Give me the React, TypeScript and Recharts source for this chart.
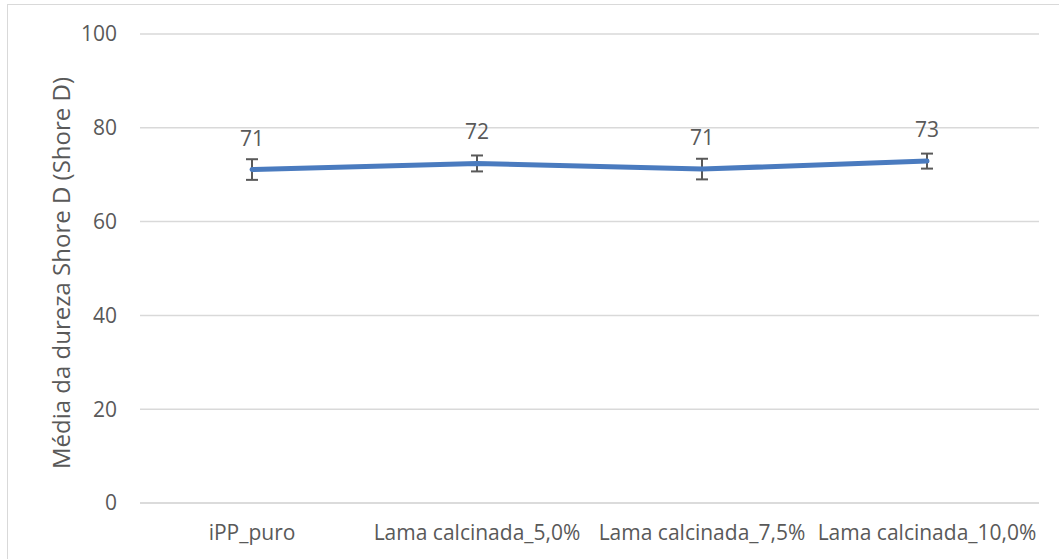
import { LineChart, Line, XAxis, YAxis, CartesianGrid, ErrorBar, LabelList, Label } from "recharts"

const categories = ["iPP_puro", "Lama calcinada_5,0%", "Lama calcinada_7,5%", "Lama calcinada_10,0%"]
const hardness = [71.1, 72.4, 71.2, 72.9]
const deviation = [2.2, 1.7, 2.2, 1.6]
const yTicks = [0, 20, 40, 60, 80, 100]
const yTitle = "Média da dureza Shore D (Shore D)"

const data = categories.map((name, i) => ({ name, value: hardness[i], err: deviation[i] }))

const textColor = "#595959"
const font = "'Open Sans', sans-serif"
const fontSize = 21

// axis title sits a bit lower than the plot centre in the original
const YTitle = () => (
  <text
    x={60}
    y={273}
    transform="rotate(-90 60 273)"
    textAnchor="middle"
    dominantBaseline="central"
    fill={textColor}
    fontSize={24}
    fontFamily={font}
  >
    {yTitle}
  </text>
)

export default function App() {
  return (
    <div
      style={{
        position: "fixed",
        left: 0,
        top: 0,
        width: 1059,
        height: 559,
        overflow: "hidden",
        background: "#fff",
        fontFamily: font,
      }}
    >
      <div
        style={{
          position: "absolute",
          left: 7,
          top: 4,
          width: 1100,
          height: 600,
          border: "1px solid #d9d9d9",
        }}
      />
      <div style={{ position: "absolute", left: 0, top: 0 }}>
        <LineChart width={1059} height={559} data={data} margin={{ top: 34, right: 20, bottom: 26, left: 0 }}>
          <CartesianGrid vertical={false} stroke="#d9d9d9" strokeWidth={1.5} />
          <XAxis
            dataKey="name"
            height={30}
            padding={{ left: 112, right: 112 }}
            axisLine={{ stroke: "#d9d9d9", strokeWidth: 1.5 }}
            tickLine={false}
            tickMargin={16}
            interval={0}
            tick={{ fill: textColor, fontSize, fontFamily: font }}
          />
          <YAxis
            width={140}
            domain={[0, 100]}
            ticks={yTicks}
            axisLine={false}
            tickLine={false}
            tickMargin={17}
            tick={{ fill: textColor, fontSize, fontFamily: font }}
          >
            <Label content={<YTitle />} />
          </YAxis>
          <Line
            type="linear"
            dataKey="value"
            stroke="#4a7bbf"
            strokeWidth={5}
            strokeLinecap="round"
            dot={false}
            activeDot={false}
            isAnimationActive={false}
          >
            <ErrorBar dataKey="err" width={6} stroke="#595959" strokeWidth={2} direction="y" />
            <LabelList
              dataKey="value"
              position="top"
              offset={24}
              formatter={(v: number) => Math.round(v)}
              style={{ fill: textColor, fontSize, fontFamily: font }}
            />
          </Line>
        </LineChart>
      </div>
    </div>
  )
}
